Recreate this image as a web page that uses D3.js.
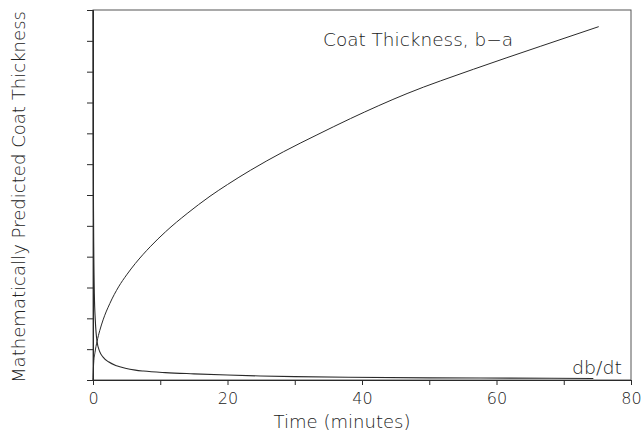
<!DOCTYPE html>
<html>
<head>
<meta charset="utf-8">
<script src="https://cdn.jsdelivr.net/npm/d3@7"></script>
<style>
  html, body { margin: 0; padding: 0; background: #fff; }
  svg { display: block; }
  text { font-family: "DejaVu Sans", sans-serif; font-weight: 200; fill: #222; }
</style>
</head>
<body>
<svg id="chart" width="641" height="436"></svg>
<script>
// --- data ---
const thickTime  = [0, 0.1, 0.3, 0.6, 1.0, 1.5, 2.5, 3.8, 5, 6.3, 8.5, 10.8, 14, 17.4, 20, 23.4, 28.3, 33.3, 38.3, 46.7, 56.6, 66.5, 75.2];
const thickValue = [0, 0.55, 0.9, 1.25, 1.6, 1.95, 2.48, 3.02, 3.41, 3.78, 4.32, 4.81, 5.40, 5.96, 6.34, 6.80, 7.40, 7.95, 8.48, 9.29, 10.08, 10.82, 11.46];
const rateTime   = [0, 0.03, 0.09, 0.2, 0.34, 0.6, 1.0, 1.5, 2.3, 3.5, 4.8, 6.3, 7.5, 10.75, 15, 20, 24.9, 30, 38, 50, 62, 74.4];
const rateValue  = [12, 8, 5, 2.8, 1.95, 1.25, 0.92, 0.74, 0.59, 0.46, 0.38, 0.32, 0.29, 0.24, 0.2, 0.16, 0.13, 0.11, 0.09, 0.07, 0.06, 0.05];
const xTickLabels = [0, 20, 40, 60, 80];
const xMinorTicks = [10, 30, 50, 70];
const yTicks = [1, 2, 3, 4, 5, 6, 7, 8, 9, 10, 11];
const xTitle = "Time (minutes)";
const yTitle = "Mathematically Predicted Coat Thickness";
const thickLabel = "Coat Thickness, b\u2212a";
const rateLabel = "db/dt";

// --- layout ---
const L = 93, R = 631, T = 10, B = 380;
const svg = d3.select("#chart");
const x = d3.scaleLinear().domain([0, 80]).range([L, R]);
const y = d3.scaleLinear().domain([0, 12]).range([B, T]);
const ink = "#2a2a2a";

// frame
svg.append("rect").attr("x", L).attr("y", T).attr("width", R - L).attr("height", B - T)
  .attr("fill", "none").attr("stroke", "#555").attr("stroke-width", 1);

// x axis
const xAxis = d3.axisBottom(x).tickValues(xTickLabels.concat(xMinorTicks))
  .tickSize(5).tickPadding(8)
  .tickFormat(d => xTickLabels.includes(d) ? d : "");
const gx = svg.append("g").attr("transform", `translate(0,${B})`).call(xAxis);
gx.select(".domain").attr("stroke", ink);
gx.selectAll(".tick line").attr("stroke", ink);
gx.selectAll("text").attr("font-size", 16).attr("font-family", "DejaVu Sans").attr("font-weight", 200).attr("fill", "#222");

// y axis
const yAxis = d3.axisLeft(y).tickValues(yTicks).tickSize(6).tickFormat("");
const gy = svg.append("g").attr("transform", `translate(${L},0)`).call(yAxis);
gy.select(".domain").attr("stroke", ink);
gy.selectAll(".tick line").attr("stroke", ink);

// curves
const line = d3.line().x(d => x(d[0])).y(d => y(d[1])).curve(d3.curveMonotoneX);
svg.append("path").datum(thickTime.map((t, i) => [t, thickValue[i]]))
  .attr("d", line).attr("fill", "none").attr("stroke", ink).attr("stroke-width", 1);
svg.append("path").datum(rateTime.map((t, i) => [t, rateValue[i]]))
  .attr("d", line).attr("fill", "none").attr("stroke", ink).attr("stroke-width", 1.1);

// labels
svg.append("text").attr("x", 323).attr("y", 46).attr("font-size", 17)
  .attr("textLength", 190).attr("lengthAdjust", "spacingAndGlyphs").text(thickLabel);
svg.append("text").attr("x", 572).attr("y", 374).attr("font-size", 17)
  .attr("textLength", 50).attr("lengthAdjust", "spacingAndGlyphs").text(rateLabel);
svg.append("text").attr("x", 342).attr("y", 428).attr("font-size", 17)
  .attr("text-anchor", "middle")
  .attr("textLength", 137).attr("lengthAdjust", "spacingAndGlyphs").text(xTitle);
svg.append("text").attr("transform", "translate(25,197) rotate(-90)")
  .attr("font-size", 17).attr("text-anchor", "middle")
  .attr("textLength", 372).attr("lengthAdjust", "spacingAndGlyphs").text(yTitle);
</script>
</body>
</html>
